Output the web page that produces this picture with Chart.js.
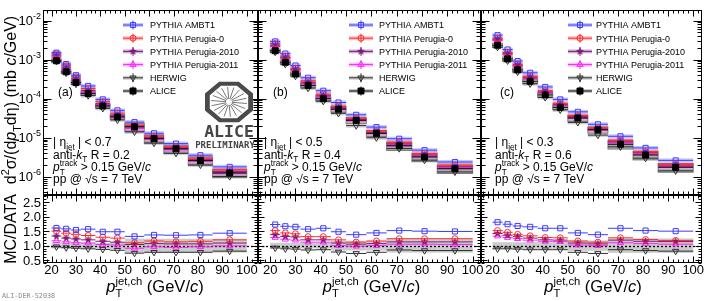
<!DOCTYPE html>
<html>
<head>
<meta charset="utf-8">
<script src="https://cdn.jsdelivr.net/npm/chart.js@4.4.0/dist/chart.umd.min.js"></script>
<style>
  body { margin: 0; background: #fff; }
  #wrap { position: relative; width: 714px; height: 301px; }
  #wrap canvas { position: absolute; left: 0; top: 0; }
</style>
</head>
<body>
<div id="wrap"></div>
<script>
// jet pT bins (GeV/c)
const binEdges = [20, 24, 28, 32, 38, 44, 50, 58, 66, 76, 86, 100];
const binCenters = [22, 26, 30, 35, 41, 47, 54, 62, 71, 81, 93];

// ALICE charged jet cross section, mb c/GeV
const aliceR02 = [9.4e-4, 4.9e-4, 2.6e-4, 1.35e-4, 6.5e-5, 3.4e-5, 1.9e-5, 9.5e-6, 5.2e-6, 2.6e-6, 1.25e-6];
const aliceR04 = [1.7e-3, 8.6e-4, 4.3e-4, 2.2e-4, 1.0e-4, 5.4e-5, 2.8e-5, 1.3e-5, 6.2e-6, 3.2e-6, 1.6e-6];
const aliceR06 = [2.35e-3, 1.05e-3, 5.5e-4, 2.8e-4, 1.25e-4, 6.0e-5, 3.2e-5, 1.6e-5, 6.8e-6, 3.6e-6, 1.75e-6];

// relative systematic uncertainty of the data (grey band)
const systR02 = [0.1, 0.1, 0.1, 0.1, 0.1, 0.12, 0.24, 0.24, 0.24, 0.24, 0.24];
const systR04 = [0.1, 0.1, 0.1, 0.1, 0.1, 0.17, 0.17, 0.17, 0.24, 0.24, 0.24];
const systR06 = [0.12, 0.12, 0.12, 0.12, 0.12, 0.12, 0.18, 0.18, 0.25, 0.25, 0.25];

// MC/DATA
const ambt1R02 = [1.61, 1.58, 1.54, 1.57, 1.48, 1.48, 1.32, 1.37, 1.36, 1.37, 1.43];
const perugia0R02 = [1.5, 1.43, 1.39, 1.35, 1.29, 1.26, 1.1, 1.16, 1.13, 1.15, 1.2];
const perugia2010R02 = [1.33, 1.26, 1.23, 1.2, 1.15, 1.12, 1.04, 1.07, 1.06, 1.06, 1.09];
const perugia2011R02 = [1.17, 1.13, 1.1, 1.09, 1.04, 1.02, 0.91, 0.96, 0.94, 0.96, 0.99];
const herwigR02 = [0.96, 0.93, 0.91, 0.89, 0.87, 0.84, 0.74, 0.77, 0.77, 0.77, 0.81];

const ambt1R04 = [1.73, 1.67, 1.65, 1.57, 1.6, 1.48, 1.38, 1.44, 1.52, 1.5, 1.49];
const perugia0R04 = [1.52, 1.44, 1.41, 1.31, 1.31, 1.2, 1.12, 1.16, 1.24, 1.24, 1.24];
const perugia2010R04 = [1.38, 1.32, 1.3, 1.2, 1.2, 1.09, 1.05, 1.07, 1.13, 1.13, 1.13];
const perugia2011R04 = [1.28, 1.22, 1.19, 1.12, 1.12, 1.0, 0.98, 1.0, 1.05, 1.05, 1.04];
const herwigR04 = [0.92, 0.89, 0.88, 0.85, 0.86, 0.78, 0.73, 0.77, 0.85, 0.83, 0.83];

const ambt1R06 = [1.81, 1.74, 1.68, 1.65, 1.6, 1.6, 1.44, 1.38, 1.6, 1.52, 1.5];
const perugia0R06 = [1.52, 1.46, 1.39, 1.34, 1.28, 1.27, 1.16, 1.12, 1.27, 1.21, 1.18];
const perugia2010R06 = [1.42, 1.36, 1.31, 1.26, 1.2, 1.19, 1.09, 1.06, 1.19, 1.15, 1.14];
const perugia2011R06 = [1.33, 1.28, 1.24, 1.19, 1.15, 1.14, 1.02, 1.0, 1.1, 1.07, 1.05];
const herwigR06 = [0.89, 0.89, 0.88, 0.86, 0.86, 0.86, 0.77, 0.73, 0.86, 0.83, 0.81];

// labels
const legendLabels = ['PYTHIA AMBT1', 'PYTHIA Perugia-0', 'PYTHIA Perugia-2010', 'PYTHIA Perugia-2011', 'HERWIG', 'ALICE'];
const panelTags = ['(a)', '(b)', '(c)'];
const etaCuts = ['0.7', '0.5', '0.3'];
const jetRadii = ['0.2', '0.4', '0.6'];
const xTickLabels = [20, 30, 40, 50, 60, 70, 80, 90, 100];
const ratioTickLabels = ['0.5', '1.0', '1.5', '2.0', '2.5'];
const decadeExponents = [-6, -5, -4, -3, -2];

const panels = [
  { alice: aliceR02, syst: systR02, ratios: [ambt1R02, perugia0R02, perugia2010R02, perugia2011R02, herwigR02] },
  { alice: aliceR04, syst: systR04, ratios: [ambt1R04, perugia0R04, perugia2010R04, perugia2011R04, herwigR04] },
  { alice: aliceR06, syst: systR06, ratios: [ambt1R06, perugia0R06, perugia2010R06, perugia2011R06, herwigR06] }
];

// ---- layout ----
const W = 714, H = 301;
const padTop = 10, padMid = 195, padBot = 263;
const boxes = [
  { left: 43, right: 258, xmin: 16.5, xmax: 104.6, legX0: 123, legX1: 143, legTx: 150, txtX: 53, tagX: 58, titleX: 155 },
  { left: 258, right: 481, xmin: 15.2, xmax: 103.3, legX0: 349, legX1: 373, legTx: 379, txtX: 264, tagX: 273, titleX: 371.5 },
  { left: 481, right: 702, xmin: 15.4, xmax: 103.5, legX0: 568, legX1: 592, legTx: 596, txtX: 495, tagX: 500, titleX: 593 }
];
const FONT = '"Liberation Sans", Arial, Helvetica, sans-serif';

function starImage(color, R) {
  const s = Math.ceil(R * 2) + 2;
  const c = document.createElement('canvas');
  c.width = c.height = s;
  const g = c.getContext('2d');
  g.fillStyle = color;
  g.beginPath();
  for (let i = 0; i < 10; i++) {
    const rr = i % 2 ? R * 0.42 : R;
    const ang = -Math.PI / 2 + i * Math.PI / 5;
    g.lineTo(s / 2 + rr * Math.cos(ang), s / 2 + rr * Math.sin(ang));
  }
  g.closePath();
  g.fill();
  return c;
}

const mcStyles = [
  { color: '#3c3cff', band: 'rgba(90,90,255,0.35)', style: 'rect', r: 3.6, rot: 0 },
  { color: '#ff2a2a', band: 'rgba(255,70,70,0.35)', style: 'circle', r: 3, rot: 0 },
  { color: '#7a1a7a', band: 'rgba(128,30,128,0.35)', style: starImage('#7a1a7a', 4.3), r: 4, rot: 0 },
  { color: '#ff22ff', band: 'rgba(255,50,255,0.32)', style: 'triangle', r: 3.6, rot: 0 },
  { color: '#2e2e2e', band: 'rgba(70,70,70,0.25)', style: 'triangle', r: 3.6, rot: 180 }
];

// rich text: segments [text, flags]; i = italic, b = subscript, p = superscript, o = same start as previous
function drawRich(ctx, x, y, segs, size, align) {
  const pieces = [];
  let cx = 0, prevStart = 0;
  for (const [t, f = ''] of segs) {
    const small = f.includes('b') || f.includes('p');
    const fs = small ? size * 0.68 : size;
    const font = (f.includes('i') ? 'italic ' : '') + fs + 'px ' + FONT;
    ctx.font = font;
    const w = ctx.measureText(t).width;
    const sx = f.includes('o') ? prevStart : cx;
    const dy = f.includes('b') ? size * 0.3 : f.includes('p') ? -size * 0.42 : 0;
    pieces.push({ t, font, sx, dy });
    cx = f.includes('o') ? Math.max(cx, sx + w) : sx + w;
    prevStart = sx;
  }
  const ox = align === 'center' ? x - cx / 2 : align === 'right' ? x - cx : x;
  ctx.textAlign = 'left';
  ctx.textBaseline = 'alphabetic';
  for (const p of pieces) {
    ctx.font = p.font;
    ctx.fillText(p.t, ox + p.sx, y + p.dy);
  }
}

function line(ctx, x0, y0, x1, y1) {
  ctx.beginPath();
  ctx.moveTo(x0, y0);
  ctx.lineTo(x1, y1);
  ctx.stroke();
}

function drawLogo(ctx, cx, cy) {
  ctx.save();
  const rx = 26, ry = 22;
  ctx.beginPath();
  for (const k of [1, 0.8]) {
    for (let i = 0; i < 8; i++) {
      const ang = Math.PI / 8 + i * Math.PI / 4;
      const px = cx + rx * k * Math.cos(ang), py = cy + ry * k * Math.sin(ang);
      if (i === 0) ctx.moveTo(px, py); else ctx.lineTo(px, py);
    }
    ctx.closePath();
  }
  ctx.fillStyle = '#4a4a4a';
  ctx.fill('evenodd');
  ctx.strokeStyle = '#6a6a6a';
  ctx.lineWidth = 0.9;
  for (let i = 0; i < 18; i++) {
    const ang = i * Math.PI / 9 + 0.1;
    line(ctx, cx + 3 * Math.cos(ang), cy + 3 * Math.sin(ang), cx + 18 * Math.cos(ang), cy + 15 * Math.sin(ang));
  }
  ctx.fillStyle = '#454545';
  ctx.textAlign = 'center';
  ctx.textBaseline = 'alphabetic';
  ctx.font = 'bold 16.5px "DejaVu Sans Mono", monospace';
  ctx.fillText('ALICE', cx, 137);
  ctx.font = 'bold 9px "DejaVu Sans Mono", monospace';
  ctx.fillText('PRELIMINARY', cx - 4, 148);
  ctx.restore();
}

const rootPad = {
  id: 'rootPad',
  beforeDatasetsDraw(chart, args, o) {
    const { ctx, chartArea: a, scales: { x, y } } = chart;
    const P = panels[o.panel];
    ctx.save();
    ctx.beginPath();
    ctx.rect(a.left, a.top, a.right - a.left, a.bottom - a.top);
    ctx.clip();
    const bx = i => [x.getPixelForValue(binEdges[i]), x.getPixelForValue(binEdges[i + 1])];
    if (o.kind === 'upper') {
      P.alice.forEach((v, i) => {
        const [x0, x1] = bx(i);
        const yt = y.getPixelForValue(v * (1 + P.syst[i])), yb = y.getPixelForValue(v * (1 - P.syst[i]));
        ctx.fillStyle = 'rgba(170,170,170,0.6)';
        ctx.fillRect(x0, yt, x1 - x0, yb - yt);
        ctx.strokeStyle = 'rgba(120,120,120,0.9)';
        ctx.lineWidth = 1;
        ctx.strokeRect(x0, yt, x1 - x0, yb - yt);
      });
      for (let k = mcStyles.length - 1; k >= 0; k--) {
        const st = mcStyles[k], r = P.ratios[k];
        P.alice.forEach((v, i) => {
          const [x0, x1] = bx(i);
          const py = y.getPixelForValue(v * r[i]);
          ctx.fillStyle = st.band;
          ctx.fillRect(x0, py - 2, x1 - x0, 4);
          ctx.strokeStyle = st.color;
          ctx.lineWidth = 1;
          line(ctx, x0, py, x1, py);
        });
      }
      ctx.strokeStyle = '#000';
      P.alice.forEach((v, i) => {
        const [x0, x1] = bx(i);
        const py = y.getPixelForValue(v);
        line(ctx, x0, py, x1, py);
      });
    } else {
      P.syst.forEach((s, i) => {
        const [x0, x1] = bx(i);
        const yt = y.getPixelForValue(1 + s), yb = y.getPixelForValue(1 - s);
        ctx.fillStyle = 'rgba(175,175,175,0.65)';
        ctx.fillRect(x0, yt, x1 - x0, yb - yt);
      });
      ctx.strokeStyle = '#000';
      ctx.lineWidth = 1.3;
      ctx.setLineDash([2, 2]);
      const y1 = Math.round(y.getPixelForValue(1)) + 0.5;
      line(ctx, a.left, y1, a.right, y1);
      ctx.setLineDash([]);
      ctx.lineWidth = 1;
      for (let k = mcStyles.length - 1; k >= 0; k--) {
        const st = mcStyles[k], r = P.ratios[k];
        ctx.strokeStyle = st.color;
        r.forEach((v, i) => {
          const [x0, x1] = bx(i);
          const py = y.getPixelForValue(v);
          line(ctx, x0, py, x1, py);
        });
      }
    }
    ctx.restore();
  },
  afterDatasetsDraw(chart, args, o) {
    const { ctx, chartArea: a, scales: { x, y } } = chart;
    const B = boxes[o.panel];
    ctx.save();
    ctx.strokeStyle = '#000';
    ctx.fillStyle = '#000';
    ctx.lineWidth = 1;
    const L = Math.round(a.left) + 0.5, R = Math.round(a.right) - 0.5;
    const T = Math.round(a.top) + 0.5, Bt = Math.round(a.bottom) - 0.5;
    ctx.strokeRect(L, T, R - L, Bt - T);

    // x ticks on bottom and top
    for (let v = Math.ceil(x.min / 2) * 2; v <= x.max; v += 2) {
      const px = Math.round(x.getPixelForValue(v)) + 0.5;
      const len = v % 10 === 0 ? 6 : 3;
      line(ctx, px, Bt, px, Bt - len);
      line(ctx, px, T, px, T + len);
    }
    if (o.kind === 'upper') {
      for (let k = -7; k <= -1; k++) {
        for (let m = 1; m <= 9; m++) {
          const v = m * Math.pow(10, k);
          if (v < y.min || v > y.max) continue;
          const py = Math.round(y.getPixelForValue(v)) + 0.5;
          const len = m === 1 ? 8 : 4;
          line(ctx, L, py, L + len, py);
          line(ctx, R, py, R - len, py);
        }
      }
    } else {
      for (let t = 4; t <= 27; t++) {
        const py = Math.round(y.getPixelForValue(t / 10)) + 0.5;
        const len = t % 5 === 0 ? 6 : 3;
        line(ctx, L, py, L + len, py);
        line(ctx, R, py, R - len, py);
      }
    }

    ctx.fillStyle = '#000';
    if (o.kind === 'upper') {
      if (o.panel === 0) {
        decadeExponents.forEach(e => {
          const py = y.getPixelForValue(Math.pow(10, e));
          ctx.font = '9px ' + FONT;
          const ew = ctx.measureText(String(e)).width;
          ctx.textAlign = 'left';
          ctx.textBaseline = 'alphabetic';
          ctx.fillText(String(e), 41 - ew, py - 2);
          ctx.font = '13px ' + FONT;
          ctx.textAlign = 'right';
          ctx.textBaseline = 'middle';
          ctx.fillText('10', 41 - ew, py + 1);
        });
        // y title
        ctx.save();
        ctx.translate(16, 100);
        ctx.rotate(-Math.PI / 2);
        drawRich(ctx, 0, 0, [['d'], ['2', 'p'], ['σ/(d'], ['p', 'i'], ['T', 'b'], ['dη) (mb '], ['c', 'i'], ['/GeV)']], 16, 'center');
        ctx.restore();
        drawLogo(ctx, 229, 102);
      }
      // legend
      legendLabels.forEach((lab, i) => {
        const ly = 25 + i * 13.2;
        const mx = (B.legX0 + B.legX1) / 2;
        const isData = i === mcStyles.length;
        const st = isData ? { color: '#000', band: 'rgba(150,150,150,0.5)', style: 'rect', r: 4.2, rot: 0 } : mcStyles[i];
        ctx.fillStyle = st.band;
        ctx.fillRect(B.legX0, ly - 2, B.legX1 - B.legX0, 4);
        ctx.strokeStyle = st.color;
        ctx.lineWidth = 1;
        line(ctx, B.legX0, ly, B.legX1, ly);
        line(ctx, mx, ly - 4.5, mx, ly + 4.5);
        ctx.fillStyle = isData ? '#000' : 'rgba(255,255,255,0)';
        Chart.helpers.drawPoint(ctx, { pointStyle: st.style, radius: st.r, rotation: st.rot, borderWidth: 1 }, mx, ly);
        ctx.fillStyle = '#000';
        ctx.font = '9px ' + FONT;
        ctx.textAlign = 'left';
        ctx.textBaseline = 'alphabetic';
        ctx.fillText(lab, B.legTx, ly + 3.4);
      });
      // annotations
      ctx.fillStyle = '#000';
      drawRich(ctx, B.tagX, 96, [[panelTags[o.panel]]], 12, 'left');
      drawRich(ctx, B.txtX, 146, [['| η'], ['jet', 'b'], [' | < ' + etaCuts[o.panel]]], 12, 'left');
      drawRich(ctx, B.txtX, 158.5, [['anti-'], ['k', 'i'], ['T', 'b'], [' R = ' + jetRadii[o.panel]]], 12, 'left');
      drawRich(ctx, B.txtX, 171, [['p', 'i'], ['T', 'b'], ['track', 'po'], [' > 0.15 GeV/'], ['c', 'i']], 12, 'left');
      drawRich(ctx, B.txtX, 183, [['pp @ √s = 7 TeV']], 12, 'left');
    } else {
      ctx.font = '13px ' + FONT;
      ctx.textAlign = 'center';
      ctx.textBaseline = 'alphabetic';
      xTickLabels.forEach(v => ctx.fillText(String(v), x.getPixelForValue(v), 274));
      drawRich(ctx, B.titleX, 292, [['p', 'i'], ['T', 'b'], ['jet,ch', 'po'], [' (GeV/'], ['c', 'i'], [')']], 16.5, 'center');
      if (o.panel === 0) {
        ctx.font = '13px ' + FONT;
        ctx.textAlign = 'right';
        ctx.textBaseline = 'middle';
        ratioTickLabels.forEach(t => ctx.fillText(t, 41, y.getPixelForValue(parseFloat(t)) + 1));
        ctx.save();
        ctx.translate(16, 229);
        ctx.rotate(-Math.PI / 2);
        drawRich(ctx, 0, 0, [['MC/DATA']], 16, 'center');
        ctx.restore();
        ctx.fillStyle = '#8a8a8a';
        ctx.font = '6.8px "DejaVu Sans Mono", monospace';
        ctx.textAlign = 'left';
        ctx.textBaseline = 'alphabetic';
        ctx.fillText('ALI-DER-52038', 2, 298);
      }
    }
    ctx.restore();
  }
};

const wrap = document.getElementById('wrap');

function pointSet(values, st, fill) {
  return {
    data: binCenters.map((xv, i) => ({ x: xv, y: values[i] })),
    pointStyle: st.style,
    pointRadius: st.r,
    pointRotation: st.rot,
    pointBorderColor: st.color,
    pointBackgroundColor: fill,
    pointBorderWidth: 1,
    showLine: false
  };
}

function makePad(panel, kind) {
  const cv = document.createElement('canvas');
  cv.width = W;
  cv.height = H;
  wrap.appendChild(cv);
  const B = boxes[panel], P = panels[panel];
  const top = kind === 'upper' ? padTop : padMid;
  const bottom = kind === 'upper' ? padMid : padBot;
  const datasets = [];
  if (kind === 'upper') {
    datasets.push(Object.assign(pointSet(P.alice, { style: 'rect', r: 4.2, rot: 0, color: '#000' }, '#000'), { label: 'ALICE', order: 0 }));
    mcStyles.forEach((st, k) => {
      const mc = P.alice.map((v, i) => v * P.ratios[k][i]);
      datasets.push(Object.assign(pointSet(mc, st, 'rgba(255,255,255,0)'), { label: legendLabels[k], order: k + 1 }));
    });
  } else {
    mcStyles.forEach((st, k) => {
      datasets.push(Object.assign(pointSet(P.ratios[k], st, 'rgba(255,255,255,0)'), { label: legendLabels[k], order: k + 1 }));
    });
  }
  new Chart(cv, {
    type: 'scatter',
    data: { datasets },
    options: {
      responsive: false,
      animation: false,
      devicePixelRatio: 1,
      events: [],
      layout: { padding: { left: B.left, right: W - B.right, top: top, bottom: H - bottom } },
      scales: {
        x: { type: 'linear', min: B.xmin, max: B.xmax, display: false },
        y: kind === 'upper'
          ? { type: 'logarithmic', min: 3.4e-7, max: 1.88e-2, display: false }
          : { type: 'linear', min: 0.4, max: 2.75, display: false }
      },
      plugins: {
        legend: { display: false },
        tooltip: { enabled: false },
        rootPad: { panel: panel, kind: kind }
      }
    },
    plugins: [rootPad]
  });
}

[0, 1, 2].forEach(p => {
  makePad(p, 'upper');
  makePad(p, 'lower');
});
</script>
</body>
</html>
